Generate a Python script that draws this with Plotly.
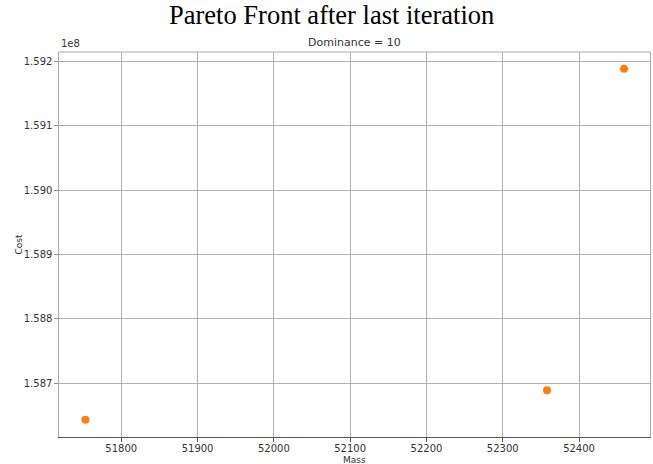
import plotly.graph_objects as go

mass = [51753, 52358, 52459]
cost = [158643500, 158689400, 159188600]
x_ticks = [51800, 51900, 52000, 52100, 52200, 52300, 52400]
y_ticks = [1.587, 1.588, 1.589, 1.590, 1.591, 1.592]
y_tick_labels = ["1.587", "1.588", "1.589", "1.590", "1.591", "1.592"]

fig = go.Figure()
fig.add_trace(go.Scatter(
    x=mass, y=[c / 1e8 for c in cost], mode="markers",
    marker=dict(color="#ff7f0e", size=8, line=dict(width=0)),
    showlegend=False, hoverinfo="x+y"))

tickfont = dict(family="DejaVu Sans", size=10, color="#333333")
labfont = dict(family="DejaVu Sans", size=9, color="#333333")
fig.update_layout(
    width=653, height=464,
    margin=dict(l=59, r=3, t=52, b=27, autoexpand=False),
    paper_bgcolor="white", plot_bgcolor="white",
    xaxis=dict(range=[51718.4, 52493], tickvals=x_ticks,
               ticktext=[str(v) for v in x_ticks], automargin=False,
               showgrid=True, gridcolor="#b0b0b0", gridwidth=1,
               zeroline=False, showline=True, linecolor="#555555", linewidth=1.2,
               ticks="outside", ticklen=3.5, tickcolor="#555555", tickfont=tickfont,
               ticklabelstandoff=-2),
    yaxis=dict(range=[1.586166, 1.592146], tickvals=y_ticks, ticktext=y_tick_labels,
               automargin=False,
               showgrid=True, gridcolor="#b0b0b0", gridwidth=1,
               zeroline=False, showline=True, mirror=True, linecolor="#aaaaaa", linewidth=1.2,
               ticks="outside", ticklen=3.5, tickcolor="#888888", tickfont=tickfont),
    shapes=[dict(type="line", xref="paper", yref="paper", x0=0, x1=1, y0=1, y1=1,
                 line=dict(color="#aaaaaa", width=1.2))],
    annotations=[
        dict(text="Pareto Front after last iteration", xref="paper", yref="paper",
             x=0.461, y=1, yshift=20, xanchor="center", yanchor="bottom", showarrow=False,
             font=dict(family="Liberation Serif", size=26.5, color="black")),
        dict(text="Dominance = 10", xref="paper", yref="paper",
             x=0.5, y=1, yshift=1, xanchor="center", yanchor="bottom", showarrow=False,
             font=dict(family="DejaVu Sans", size=11, color="#333333")),
        dict(text="1e8", xref="paper", yref="paper",
             x=0, y=1, yshift=1, xanchor="left", yanchor="bottom", showarrow=False,
             font=dict(family="DejaVu Sans", size=10, color="#333333")),
        dict(text="Mass", xref="paper", yref="paper",
             x=0.5, y=1, yshift=50, xanchor="center", yanchor="bottom", showarrow=False,
             font=labfont),
        dict(text="Mass", xref="paper", yref="paper",
             x=0.5, y=0, yshift=-23, xanchor="center", yanchor="middle", showarrow=False,
             font=labfont),
        dict(text="Cost", xref="paper", yref="paper", textangle=-90,
             x=0, y=0.5, xshift=-41, xanchor="center", yanchor="middle", showarrow=False,
             font=labfont),
    ],
)

fig.write_html("out.html", config={"displayModeBar": False},
               post_script="document.body.style.margin='0';")
